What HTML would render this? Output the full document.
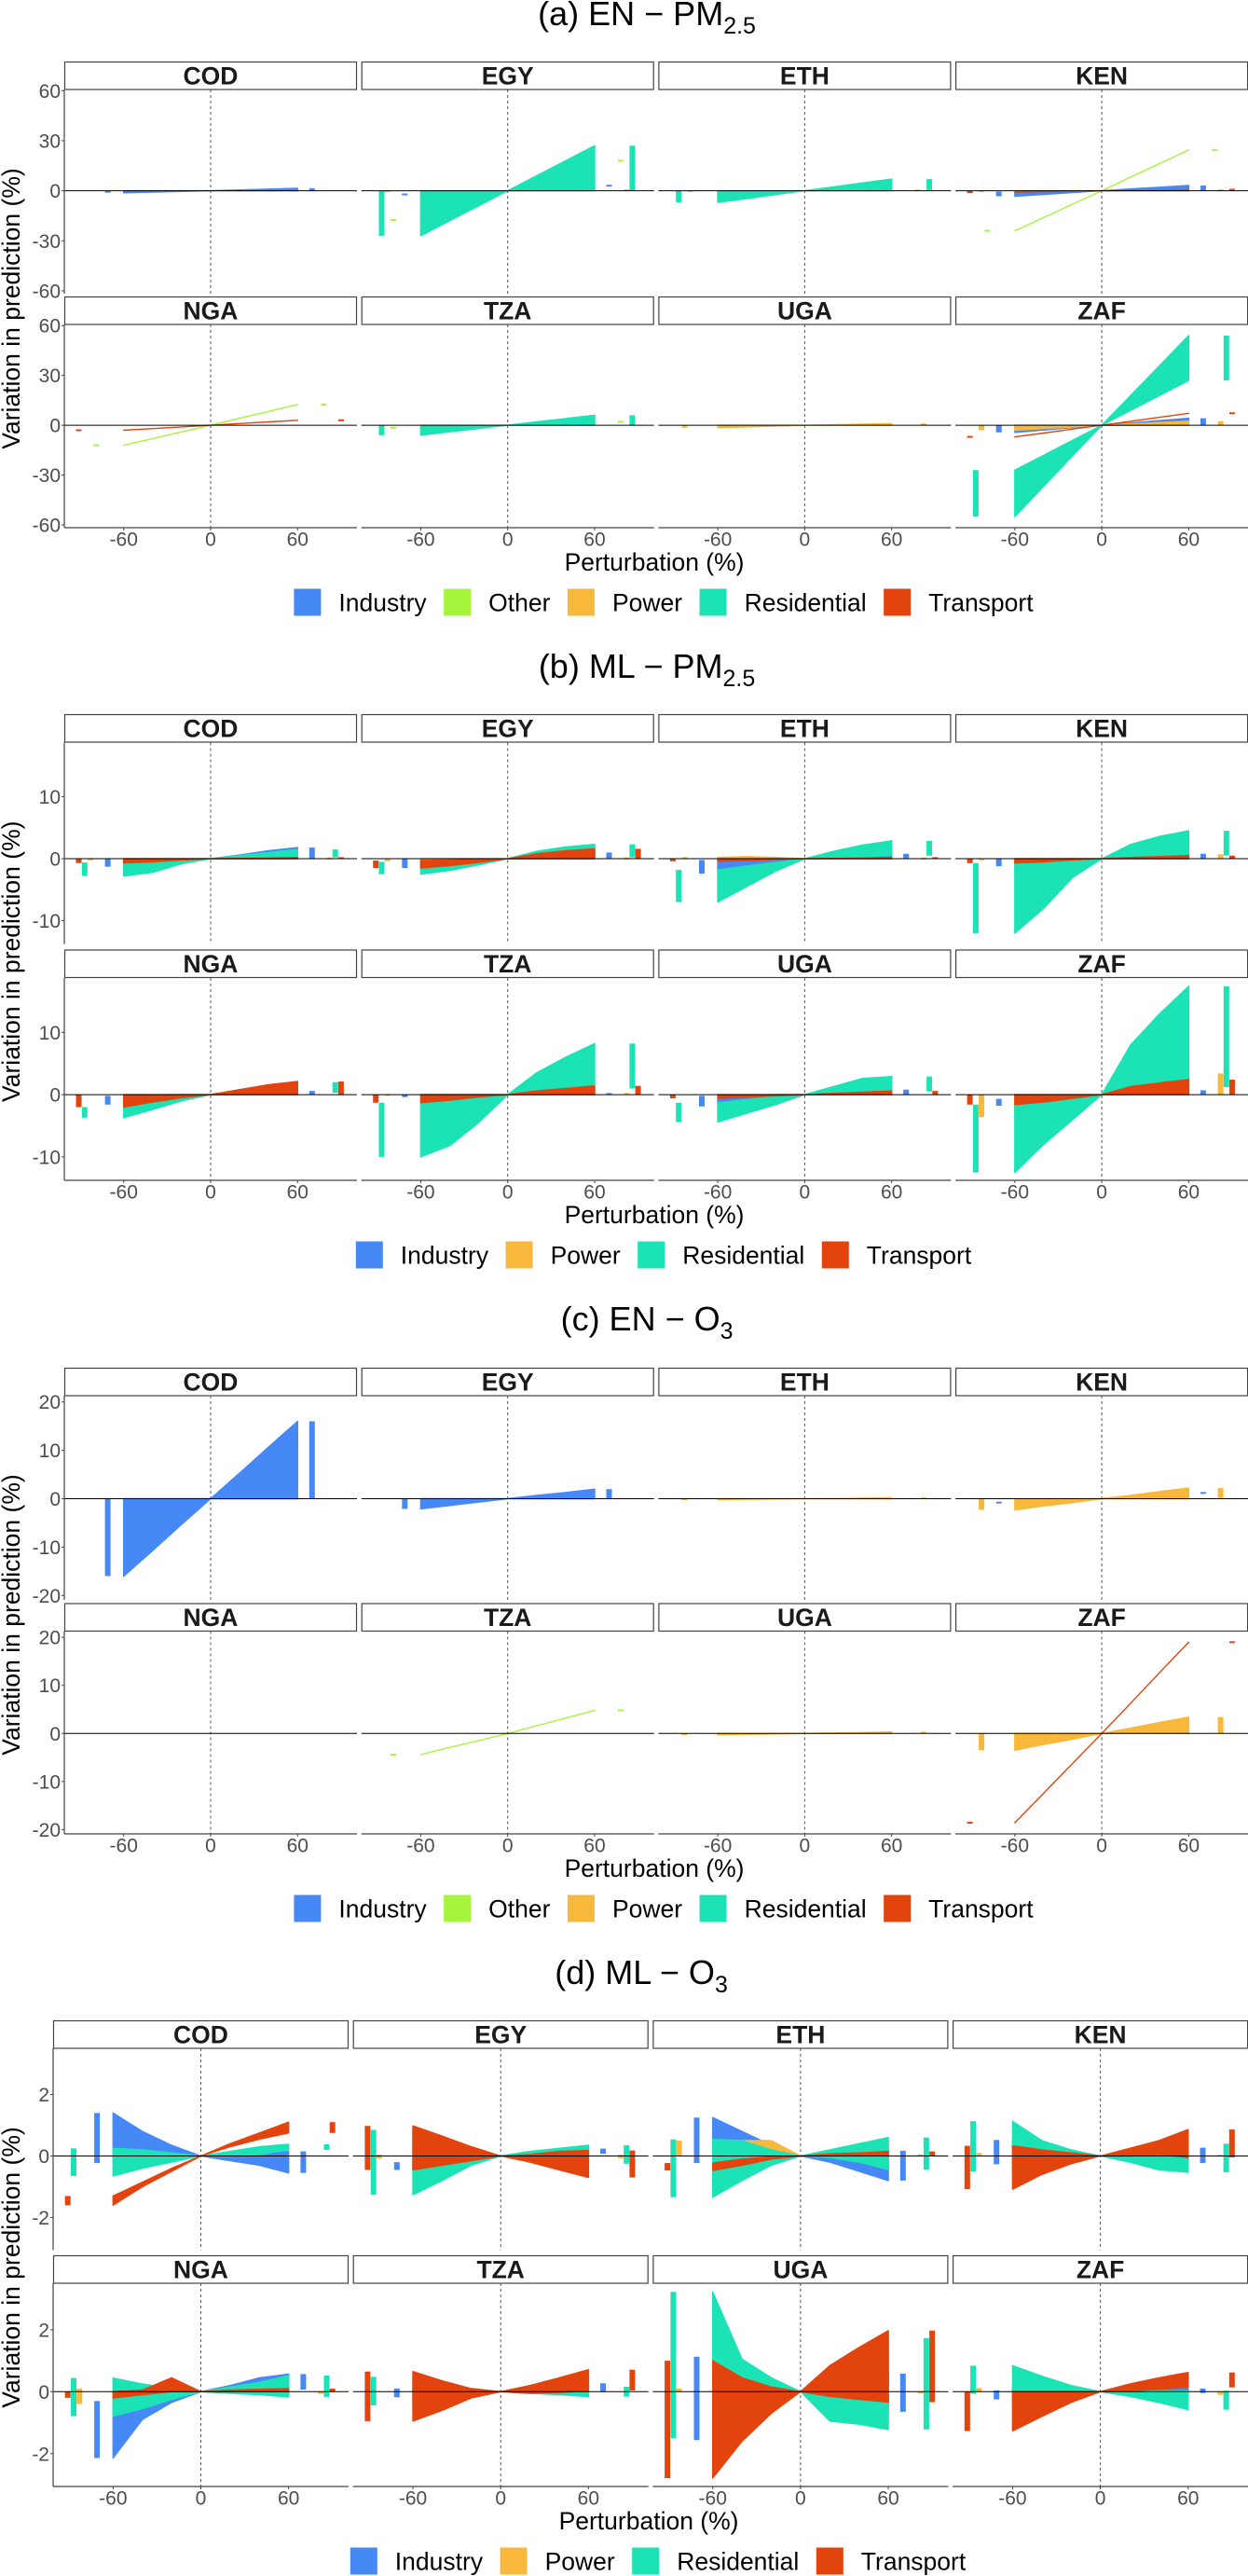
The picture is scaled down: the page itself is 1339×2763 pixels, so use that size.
<!DOCTYPE html>
<html><head><meta charset="utf-8"><title>Perturbation response by sector</title>
<style>
html,body{margin:0;padding:0;background:#fff;}
svg{display:block;font-family:"Liberation Sans",Arial,sans-serif;}
</style></head>
<body>
<svg id="fig" xmlns="http://www.w3.org/2000/svg" width="1339" height="2763" viewBox="0 0 1339 2763"></svg>
<script>
// ---------- shared data ----------
const countries = ['COD','EGY','ETH','KEN','NGA','TZA','UGA','ZAF'];
const sectors = ['Industry','Other','Power','Residential','Transport'];
const xPoints = [-60,-40,-20,0,20,40,60];
const xTicks = [-60,0,60];
const ticksA = [-60,-30,0,30,60];
const ticksB = [-10,0,10];
const ticksC = [-20,-10,0,10,20];
const ticksD = [-2,0,2];
const legendA = ['Industry','Other','Power','Residential','Transport'];
const legendB = ['Industry','Power','Residential','Transport'];
const legendC = ['Industry','Other','Power','Residential','Transport'];
const legendD = ['Industry','Power','Residential','Transport'];

// rows: [country, sector, lo values at xPoints, hi values at xPoints]
const seriesA = [
 ['COD','Industry',[-1.2,-0.8,-0.4,0,0,0,0],[0,0,0,0,0.5,1,1.5]],
 ['EGY','Industry',[-2.2,-1.5,-0.7,0,1,2,3],[-2.2,-1.5,-0.7,0,1,2,3]],
 ['EGY','Other',[-17.5,-11.7,-5.8,0,6,12,18],[-17.5,-11.7,-5.8,0,6,12,18]],
 ['EGY','Power',[-0.3,-0.2,-0.1,0,0.1,0.2,0.3],[-0.3,-0.2,-0.1,0,0.1,0.2,0.3]],
 ['EGY','Residential',[-27,-18,-9,0,0,0,0],[0,0,0,0,9,18,27]],
 ['ETH','Other',[-0.3,-0.2,-0.1,0,0.1,0.2,0.3],[-0.3,-0.2,-0.1,0,0.1,0.2,0.3]],
 ['ETH','Residential',[-7,-4.7,-2.3,0,0,0,0],[0,0,0,0,2.3,4.7,7]],
 ['KEN','Industry',[-3.3,-2.2,-1.1,0,0,0,0],[-0.5,-0.3,-0.2,0,1.1,2.1,3.2]],
 ['KEN','Other',[-24,-16,-8,0,8.2,16.3,24.5],[-24,-16,-8,0,8.2,16.3,24.5]],
 ['KEN','Power',[-0.6,-0.4,-0.2,0,0,0,0],[0,0,0,0,0.2,0.4,0.6]],
 ['KEN','Transport',[-0.8,-0.5,-0.3,0,0.2,0.4,0.6],[-0.8,-0.5,-0.3,0,0.2,0.4,0.6]],
 ['NGA','Other',[-12,-8,-4,0,4.2,8.3,12.5],[-12,-8,-4,0,4.2,8.3,12.5]],
 ['NGA','Transport',[-3,-2,-1,0,1,2,3],[-3,-2,-1,0,1,2,3]],
 ['TZA','Other',[-1.5,-1,-0.5,0,0.7,1.3,2],[-1.5,-1,-0.5,0,0.7,1.3,2]],
 ['TZA','Residential',[-6,-4,-2,0,0,0,0],[0,0,0,0,2,4,6]],
 ['UGA','Power',[-1.5,-1,-0.5,0,0,0,0],[0,0,0,0,0.3,0.7,1]],
 ['ZAF','Industry',[-4.3,-2.9,-1.4,0,0,0,0],[0,0,0,0,1.4,2.8,4.2]],
 ['ZAF','Power',[-3,-2,-1,0,0,0,0],[0,0,0,0,0.8,1.7,2.5]],
 ['ZAF','Residential',[-55,-36.7,-18.3,0,9,18,27],[-27,-18,-9,0,18,36,54]],
 ['ZAF','Transport',[-7,-4.7,-2.3,0,2.4,4.8,7.2],[-7,-4.7,-2.3,0,2.4,4.8,7.2]]
];
const seriesB = [
 ['COD','Industry',[-1.3,-0.8,-0.4,0,0,0,0],[0,0,0,0,0.6,1.3,1.8]],
 ['COD','Power',[-0.2,-0.1,0,0,0,0,0],[0,0,0,0,0,0.05,0.1]],
 ['COD','Residential',[-2.8,-2.2,-0.8,0,0.05,0.1,0.2],[-0.6,-0.4,-0.2,0,0.5,1.0,1.5]],
 ['COD','Transport',[-0.7,-0.5,-0.2,0,0,0,0],[0,0,0,0,0.05,0.1,0.2]],
 ['EGY','Industry',[-1.5,-1,-0.5,0,0,0,0],[0,0,0,0,0.3,0.7,1]],
 ['EGY','Power',[-0.4,-0.3,-0.1,0,0,0,0],[0,0,0,0,0,0.05,0.1]],
 ['EGY','Residential',[-2.5,-1.9,-1,0,0.1,0.15,0.2],[-0.5,-0.3,-0.1,0,1.2,1.9,2.3]],
 ['EGY','Transport',[-1.5,-1.1,-0.6,0,0,0,0],[-0.3,-0.2,-0.1,0,0.8,1.3,1.6]],
 ['ETH','Industry',[-2.4,-1.5,-0.6,0,0,0,0],[-0.2,-0.1,0,0,0.3,0.6,0.8]],
 ['ETH','Power',[0,0,0,0,0,0,0],[0.2,0.35,0.2,0,0,0,0.05]],
 ['ETH','Residential',[-7,-4.5,-2,0,0.1,0.3,0.5],[-1.8,-1.2,-0.6,0,1.2,2.2,2.9]],
 ['ETH','Transport',[-0.4,-0.3,-0.1,0,0,0,0],[0,0,0,0,0.05,0.1,0.2]],
 ['KEN','Industry',[-1.2,-0.8,-0.4,0,0,0,0],[0,0,0,0,0.3,0.6,0.8]],
 ['KEN','Power',[-0.2,-0.1,0,0,0,0,0],[0,0,0,0,0.3,0.5,0.7]],
 ['KEN','Residential',[-12,-8,-3,0,0.2,0.4,0.5],[-0.7,-0.4,-0.2,0,2.3,3.6,4.5]],
 ['KEN','Transport',[-0.7,-0.5,-0.2,0,0,0,0],[0,0,0,0,0.2,0.35,0.5]],
 ['NGA','Industry',[-1.6,-1,-0.5,0,0,0,0],[-0.2,-0.1,0,0,0.2,0.4,0.6]],
 ['NGA','Residential',[-3.7,-2.4,-1,0,0.1,0.2,0.3],[-2,-1.1,-0.4,0,0.7,1.4,2]],
 ['NGA','Transport',[-2,-1.2,-0.5,0,0,0,0],[0,0,0,0,0.8,1.6,2.1]],
 ['TZA','Industry',[-0.4,-0.3,-0.1,0,0,0,0],[0,0,0,0,0.1,0.15,0.2]],
 ['TZA','Power',[-0.1,-0.05,0,0,0,0,0],[0,0,0,0,0.05,0.1,0.2]],
 ['TZA','Residential',[-10,-8.2,-4.5,0,0.3,0.6,1],[-1.3,-0.9,-0.4,0,3.5,6,8.2]],
 ['TZA','Transport',[-1.3,-0.9,-0.4,0,0,0,0],[0,0,0,0,0.6,1,1.4]],
 ['UGA','Industry',[-1.9,-1.2,-0.5,0,0,0,0],[-0.2,-0.1,0,0,0.3,0.6,0.8]],
 ['UGA','Residential',[-4.4,-3,-1.6,0,0.2,0.4,0.5],[-1.3,-0.8,-0.3,0,1.3,2.6,2.9]],
 ['UGA','Transport',[-0.6,-0.4,-0.2,0,0,0,0],[0,0,0,0,0.2,0.4,0.6]],
 ['ZAF','Industry',[-1.8,-1.2,-0.6,0,0,0,0],[-0.7,-0.4,-0.2,0,0.2,0.5,0.7]],
 ['ZAF','Power',[-3.6,-2.4,-1.2,0,0,0,0],[0,0,0,0,1.1,2.3,3.4]],
 ['ZAF','Residential',[-12.5,-8,-4,0,0.5,0.9,1.2],[-1.6,-1.2,-0.6,0,8,13,17.4]],
 ['ZAF','Transport',[-1.6,-1.2,-0.6,0,0,0,0],[0,0,0,0,1.3,1.9,2.4]]
];
const seriesC = [
 ['COD','Industry',[-16,-10.7,-5.3,0,0,0,0],[0,0,0,0,5.3,10.7,16]],
 ['EGY','Industry',[-2.1,-1.4,-0.7,0,0,0,0],[0,0,0,0,0.7,1.3,2]],
 ['ETH','Power',[-0.2,-0.1,-0.05,0,0,0,0],[0,0,0,0,0.05,0.1,0.2]],
 ['KEN','Industry',[-0.8,-0.5,-0.3,0,0.4,0.8,1.2],[-0.8,-0.5,-0.3,0,0.4,0.8,1.2]],
 ['KEN','Power',[-2.3,-1.5,-0.8,0,0,0,0],[0,0,0,0,0.7,1.5,2.2]],
 ['TZA','Other',[-4.4,-2.9,-1.5,0,1.6,3.2,4.8],[-4.4,-2.9,-1.5,0,1.6,3.2,4.8]],
 ['UGA','Power',[-0.3,-0.2,-0.1,0,0,0,0],[0,0,0,0,0.1,0.2,0.3]],
 ['ZAF','Power',[-3.5,-2.3,-1.2,0,0,0,0],[0,0,0,0,1.1,2.3,3.4]],
 ['ZAF','Transport',[-18.6,-12.4,-6.2,0,6.3,12.7,19],[-18.6,-12.4,-6.2,0,6.3,12.7,19]]
];
const seriesD = [
 ['COD','Industry',[-0.23,-0.1,-0.05,0,-0.15,-0.3,-0.55],[1.4,0.8,0.35,0,0,0.05,0.15]],
 ['COD','Residential',[-0.65,-0.4,-0.2,0,0,0.05,0.2],[0.25,0.2,0.1,0,0.15,0.3,0.38]],
 ['COD','Transport',[-1.6,-1.0,-0.5,0,0.3,0.55,0.75],[-1.3,-0.85,-0.4,0,0.4,0.75,1.1]],
 ['EGY','Industry',[-0.45,-0.3,-0.15,0,0,0.03,0.07],[-0.2,-0.1,-0.05,0,0.1,0.17,0.24]],
 ['EGY','Power',[-0.08,-0.05,0,0,0,0,-0.07],[0.05,0.03,0,0,0,0.03,0.05]],
 ['EGY','Residential',[-1.26,-0.8,-0.3,0,0,0,-0.25],[0.85,0.55,0.25,0,0.15,0.25,0.35]],
 ['EGY','Transport',[-0.45,-0.3,-0.15,0,-0.2,-0.45,-0.7],[0.98,0.65,0.3,0,0.05,0.15,0.18]],
 ['ETH','Industry',[-0.23,-0.1,0,0,-0.2,-0.5,-0.8],[1.25,0.8,0.35,0,0,0.05,0.17]],
 ['ETH','Power',[0,0.05,0.1,0,0,0,0],[0.5,0.5,0.5,0,0.02,0.03,0.05]],
 ['ETH','Residential',[-1.34,-0.8,-0.3,0,-0.05,-0.2,-0.44],[0.54,0.5,0.2,0,0.2,0.4,0.6]],
 ['ETH','Transport',[-0.47,-0.3,-0.1,0,0,0.02,0],[-0.23,-0.1,-0.03,0,0.07,0.1,0.15]],
 ['KEN','Industry',[-0.27,-0.15,-0.05,0,-0.1,-0.15,-0.23],[0.52,0.3,0.15,0,0.1,0.2,0.27]],
 ['KEN','Power',[0,0,0,0,0,0,0],[0.1,0.05,0.02,0,0,0.01,0.02]],
 ['KEN','Residential',[-0.5,-0.3,-0.1,0,-0.2,-0.45,-0.53],[1.13,0.5,0.2,0,0,0.1,0.4]],
 ['KEN','Transport',[-1.08,-0.6,-0.25,0,0,0.05,-0.05],[0.33,0.2,0.1,0,0.25,0.5,0.86]],
 ['NGA','Industry',[-2.14,-0.9,-0.35,0,0,0.05,0.07],[-0.3,-0.2,-0.1,0,0.2,0.45,0.57]],
 ['NGA','Power',[-0.4,-0.25,-0.1,0,0,0,-0.07],[0.1,0.05,0.02,0,0,0,0]],
 ['NGA','Residential',[-0.79,-0.55,-0.25,0,-0.05,-0.1,-0.17],[0.44,0.25,0.1,0,0.15,0.3,0.52]],
 ['NGA','Transport',[-0.2,-0.1,0,0,0,0,0],[0,0.05,0.45,0,0.05,0.08,0.1]],
 ['TZA','Industry',[-0.18,-0.1,-0.05,0,0,0,0],[0.1,0.05,0.02,0,0.1,0.2,0.27]],
 ['TZA','Residential',[-0.44,-0.25,-0.1,0,-0.05,-0.1,-0.16],[0.48,0.25,0.1,0,0.05,0.1,0.16]],
 ['TZA','Transport',[-0.95,-0.6,-0.2,0,-0.05,-0.03,0.04],[0.65,0.35,0.1,0,0.2,0.45,0.71]],
 ['UGA','Industry',[-1.56,-1,-0.4,0,-0.3,-0.5,-0.65],[1.13,0.7,0.3,0,0.2,0.4,0.58]],
 ['UGA','Power',[0,0,0,0,0,0,-0.05],[0.1,0.05,0.02,0,0,0,0]],
 ['UGA','Residential',[-1.5,-1,-0.4,0,-0.95,-1.05,-1.22],[3.22,1.05,0.45,0,0.5,1.1,1.73]],
 ['UGA','Transport',[-2.79,-1.6,-0.7,0,-0.15,-0.25,-0.34],[1.0,0.45,0.15,0,0.84,1.43,1.97]],
 ['ZAF','Industry',[-0.25,-0.15,-0.05,0,0,0,-0.04],[0.04,0.03,0.01,0,0.04,0.07,0.1]],
 ['ZAF','Power',[0,0,0,0,0,0,-0.1],[0.12,0.08,0.04,0,0,0,0]],
 ['ZAF','Residential',[-0.07,-0.05,-0.02,0,-0.15,-0.35,-0.58],[0.84,0.5,0.2,0,0.03,0.03,0.03]],
 ['ZAF','Transport',[-1.27,-0.8,-0.35,0,0.03,0.08,0.14],[0,0,0,0,0.25,0.45,0.62]]
];

// ---------- styling / layout (not data) ----------
const colors = {Industry:'#4788f7',Other:'#a4f53c',Power:'#f8b83c',Residential:'#1ce3b6',Transport:'#e3440e'};
const barPos = {Industry:[-71,70],Other:[-79,78],Power:[-83,82],Residential:[-87,86],Transport:[-91,90]};
const xMin = -101, xMax = 101;

const charts = [
 {key:'a', label:'(a) EN − PM', sub:'2.5', titleY:27, left:69, step:318.7, pw:314,
  rows:[{strip:66,top:96,bot:315},{strip:318,top:348,bot:566}], ymin:-61.7, ymax:60.7,
  ticks:ticksA, series:seriesA, legend:legendA},
 {key:'b', label:'(b) ML − PM', sub:'2.5', titleY:727, left:69, step:318.7, pw:314,
  rows:[{strip:766,top:796.5,bot:1012.6},{strip:1018.5,top:1049,bot:1266}], ymin:-13.76, ymax:18.72,
  ticks:ticksB, series:seriesB, legend:legendB},
 {key:'c', label:'(c) EN − O', sub:'3', titleY:1427, left:69, step:318.7, pw:314,
  rows:[{strip:1467,top:1497,bot:1716},{strip:1719.5,top:1749.5,bot:1967}], ymin:-20.9, ymax:21.3,
  ticks:ticksC, series:seriesC, legend:legendC},
 {key:'d', label:'(d) ML − O', sub:'3', titleY:2128, left:57, step:321.7, pw:317,
  rows:[{strip:2167,top:2197,bot:2413.5},{strip:2419,top:2449,bot:2667}], ymin:-3.06, ymax:3.5,
  ticks:ticksD, series:seriesD, legend:legendD}
];

const NS = 'http://www.w3.org/2000/svg';
const svg = document.getElementById('fig');
function mk(tag, attrs, parent){
  const e = document.createElementNS(NS, tag);
  for (const k in attrs) e.setAttribute(k, attrs[k]);
  (parent||svg).appendChild(e);
  return e;
}

charts.forEach(ch => {
  const g = mk('g', {});
  
  
  const plotL = ch.left, plotR = ch.left + 3*ch.step + ch.pw;
  const cx = (plotL + plotR)/2 - 2;

  // title
  const t = mk('text', {x: cx - 8, y: ch.titleY, 'font-size': 36, 'text-anchor':'middle', fill:'#000'}, g);
  
  
  t.appendChild(document.createTextNode(ch.label));
  const ts = mk('tspan', {dy: 9, 'font-size': 25}, t);
  ts.textContent = ch.sub;

  const xOf = (col, v) => ch.left + col*ch.step + (v - xMin)/(xMax - xMin)*ch.pw;
  const yOf = (row, v) => { const r = ch.rows[row]; return r.top + (ch.ymax - v)/(ch.ymax - ch.ymin)*(r.bot - r.top); };

  countries.forEach((c, i) => {
    const row = Math.floor(i/4), col = i % 4;
    const R = ch.rows[row];
    const x0 = ch.left + col*ch.step;
    const pg = mk('g', {}, g);
    
    

    // dashed zero vertical
    const vl = mk('line', {x1: xOf(col,0), x2: xOf(col,0), y1: R.top, y2: R.bot, stroke:'#555', 'stroke-width':1, 'stroke-dasharray':'3,3'}, pg);
    
    

    // ribbons and bars in sector order
    sectors.forEach(s => {
      ch.series.filter(r => r[0] === c && r[1] === s).forEach(r => {
        const lo = r[2], hi = r[3];
        const pts = [];
        xPoints.forEach((xv, k) => pts.push(xOf(col, xv).toFixed(1) + ',' + yOf(row, hi[k]).toFixed(1)));
        for (let k = xPoints.length - 1; k >= 0; k--) pts.push(xOf(col, xPoints[k]).toFixed(1) + ',' + yOf(row, lo[k]).toFixed(1));
        const poly = mk('polygon', {points: pts.join(' '), fill: colors[s], stroke: colors[s], 'stroke-width': 1.4, 'stroke-linejoin':'round'}, pg);
        
        
        [[0, barPos[s][0]], [xPoints.length - 1, barPos[s][1]]].forEach(([k, bx]) => {
          const ya = yOf(row, hi[k]), yb = yOf(row, lo[k]);
          let top = Math.min(ya, yb), h = Math.abs(yb - ya);
          if (h < 2) { top = (ya + yb)/2 - 1; h = 2; }
          const rect = mk('rect', {x: (xOf(col, bx) - 3).toFixed(1), y: top.toFixed(1), width: 6, height: h.toFixed(1), fill: colors[s]}, pg);
          
          
        });
      });
    });

    // zero horizontal
    const hl = mk('line', {x1: x0, x2: x0 + ch.pw, y1: yOf(row,0), y2: yOf(row,0), stroke:'#000', 'stroke-width':1}, pg);
    
    

    // strip
    const sr = mk('rect', {x: x0 + 0.5, y: R.strip + 0.5, width: ch.pw - 1, height: 29.5, fill:'#fff', stroke:'#444', 'stroke-width':1.2}, pg);
    
    
    const st = mk('text', {x: x0 + ch.pw/2, y: R.strip + 24.5, 'font-size': 26.5, 'font-weight':'bold', 'text-anchor':'middle', fill:'#1a1a1a'}, pg);
    
    
    st.textContent = c;

    // y axis on first column
    if (col === 0) {
      const ya = mk('line', {x1: x0, x2: x0, y1: R.top, y2: R.bot, stroke:'#444', 'stroke-width':1.2}, pg);
      
      
      ch.ticks.forEach(tv => {
        const yy = yOf(row, tv);
        mk('line', {x1: x0 - 3, x2: x0, y1: yy, y2: yy, stroke:'#444', 'stroke-width':1}, pg);
        const tl = mk('text', {x: x0 - 4, y: yy + 7.5, 'font-size': 21, 'text-anchor':'end', fill:'#4d4d4d'}, pg);
        
        
        tl.textContent = String(tv);
      });
    }
    // x axis on bottom row
    if (row === 1) {
      const xa = mk('line', {x1: x0, x2: x0 + ch.pw, y1: R.bot, y2: R.bot, stroke:'#444', 'stroke-width':1.2}, pg);
      
      
      xTicks.forEach(tv => {
        const xx = xOf(col, tv);
        mk('line', {x1: xx, x2: xx, y1: R.bot, y2: R.bot + 3, stroke:'#444', 'stroke-width':1}, pg);
        const tl = mk('text', {x: xx, y: R.bot + 19.5, 'font-size': 21, 'text-anchor':'middle', fill:'#4d4d4d'}, pg);
        
        
        tl.textContent = String(tv);
      });
    }
  });

  // axis titles
  const bot = ch.rows[1].bot;
  const xt = mk('text', {x: cx, y: bot + 46, 'font-size': 26.5, 'text-anchor':'middle', fill:'#000'}, g);
  
  
  xt.textContent = 'Perturbation (%)';
  const ymid = (ch.rows[0].top + bot)/2;
  const yt = mk('text', {x: 0, y: 0, 'font-size': 26.5, 'text-anchor':'middle', fill:'#000', transform: 'translate(21,' + ymid + ') rotate(-90)'}, g);
  
  
  yt.textContent = 'Variation in prediction (%)';

  // legend
  const lg = mk('g', {}, g);
  
  
  const ly = bot + 80;
  const items = [];
  let xcur = 0;
  ch.legend.forEach(s => {
    const ig = mk('g', {}, lg);
    
    
    const sq = mk('rect', {x: xcur, y: ly - 14.5, width: 29, height: 29, fill: colors[s]}, ig);
    
    
    const tx = mk('text', {x: xcur + 48, y: ly + 9.5, 'font-size': 26.5, fill:'#000'}, ig);
    
    
    tx.textContent = s;
    let w = 0; try { w = tx.getComputedTextLength(); } catch(e) { w = s.length * 13; }
    if (!w) w = s.length * 13;
    items.push(ig);
    xcur += 48 + w + 18.5;
  });
  const total = xcur - 18.5;
  const lcx = (ch.key === 'd') ? 706 : 712;
  lg.setAttribute('transform', 'translate(' + (lcx - total/2).toFixed(1) + ',0)');
});
</script>
</body></html>
